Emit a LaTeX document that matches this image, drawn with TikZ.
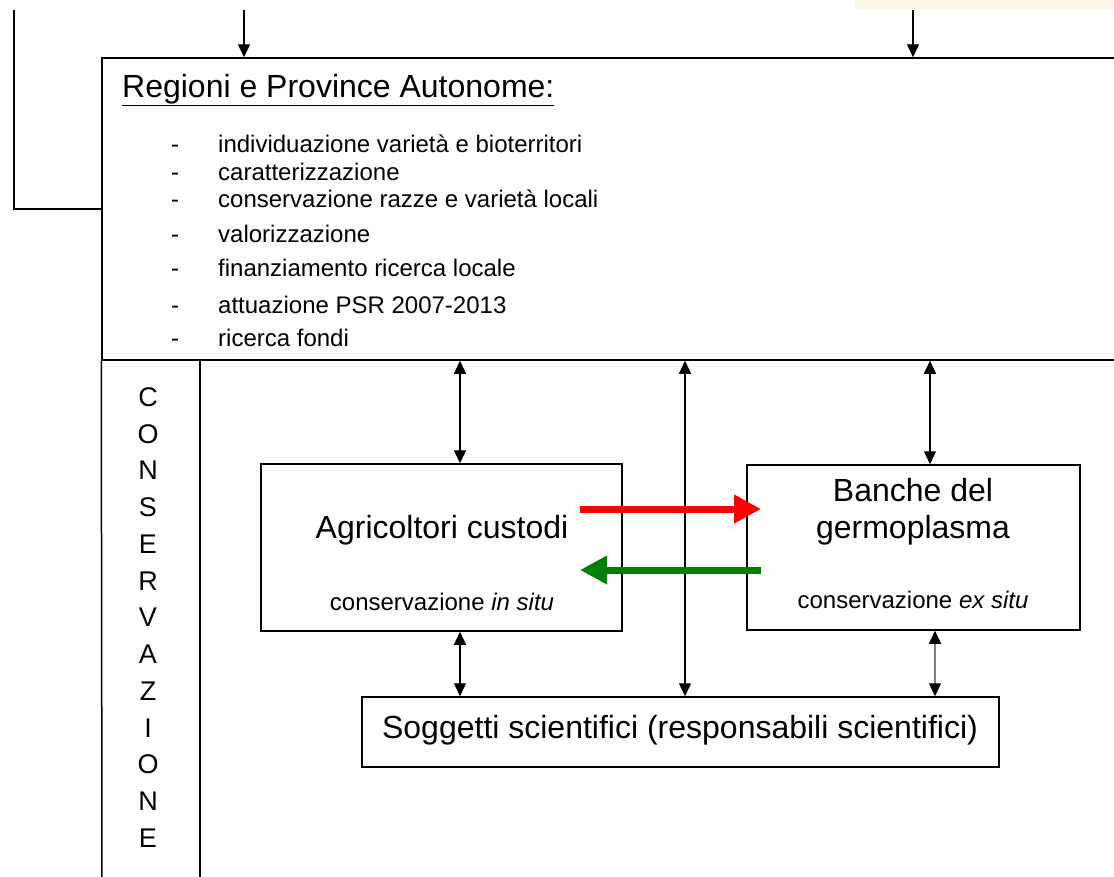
\documentclass[tikz,border=0pt]{standalone}
\usepackage{fontspec}
\setmainfont{Liberation Sans}
\usetikzlibrary{arrows.meta}

\definecolor{verde}{RGB}{0,128,0}
\definecolor{sfondo}{RGB}{252,246,228}

\tikzset{
  box/.style={draw, line width=1.5pt, inner sep=0pt},
  giu/.style={line width=1.3pt, -{Triangle[length=13pt,width=12pt]}},
  doppia/.style={line width=1.3pt, {Triangle[length=13pt,width=12pt]}-{Triangle[length=13pt,width=12pt]}},
  grossa/.style={line width=7pt, -{Triangle[length=27pt,width=27pt]}},
  voce/.style={font=\fontsize{24}{28}\selectfont, anchor=base west, inner sep=0pt},
  titolo/.style={font=\fontsize{32}{37}\selectfont, inner sep=0pt, align=center},
  sotto/.style={font=\fontsize{24}{28}\selectfont, inner sep=0pt},
  colonna/.style={font=\fontsize{27}{30}\selectfont, inner sep=0pt}
}

\begin{document}
\begin{tikzpicture}[x=1pt, y=-1pt]
  \useasboundingbox (0,0) rectangle (1114,876);
  \fill[sfondo] (855,0) rectangle (1114,9);

  % riquadro regioni
  \node[box, minimum width=1028pt, minimum height=302pt] (regioni) at (616,209) {};
  \node[font=\fontsize{32}{37}\selectfont, anchor=base west, inner sep=0pt] (titreg)
    at (122,97) {\underline{Regioni e Province Autonome:}};
  \foreach \y/\testo [count=\i] in {152/{individuazione varietà e bioterritori},
      180/caratterizzazione, 207/{conservazione razze e varietà locali},
      242/valorizzazione, 276/{finanziamento ricerca locale},
      313/{attuazione PSR 2007-2013}, 346/{ricerca fondi}} {
    \node[voce, anchor=base] (trat\i) at (175,\y) {-};
    \node[voce] (voce\i) at (218,\y) {\testo};
  }

  % frecce in alto
  \coordinate (sx) at (14,10);
  \coordinate (su1) at (244,10);
  \coordinate (su2) at (913,10);
  \draw[line width=1.3pt] (sx) |- (regioni.west);
  \draw[giu] (su1) -- (su1 |- regioni.north);
  \draw[giu] (su2) -- (su2 |- regioni.north);

  % colonna conservazione
  \draw[line width=1.5pt] (regioni.south west) -- (102,880);
  \draw[line width=1.5pt] (200,0 |- regioni.south) -- (200,880);
  \foreach \lettera [count=\i] in {C,O,N,S,E,R,V,A,Z,I,O,N,E}
    \node[colonna] (lett\i) at (148,{397+(\i-1)*36.75}) {\lettera};

  % soggetti
  \node[box, minimum width=361pt, minimum height=167pt] (agri) at (441.5,547.5) {};
  \node[box, minimum width=333pt, minimum height=165pt] (banche) at (913.5,547.5) {};
  \node[box, minimum width=637pt, minimum height=70pt] (sogg) at (680.5,732) {};

  \node[titolo] (agritit) at (442,530) {Agricoltori custodi};
  \node[sotto] (agrisot) at (442,602) {conservazione \textit{in situ}};
  \node[titolo] (bantit) at (913,512) {Banche del\\germoplasma};
  \node[sotto] (bansot) at (913,600) {conservazione \textit{ex situ}};
  \node[titolo] (soggtit) at (680,730) {Soggetti scientifici (responsabili scientifici)};

  % collegamenti
  \draw[doppia] (460,0 |- regioni.south) -- (460,0 |- agri.north);
  \draw[doppia] (685,0 |- regioni.south) -- (685,0 |- sogg.north);
  \draw[doppia] (930,0 |- regioni.south) -- (930,0 |- banche.north);
  \draw[doppia] (460,0 |- agri.south) -- (460,0 |- sogg.north);
  \draw[line width=1.3pt, draw=gray,
    {Triangle[length=13pt,width=12pt,black]}-{Triangle[length=13pt,width=12pt,black]}]
    (935,0 |- banche.south) -- (935,0 |- sogg.north);

  \coordinate (rossoA) at (580,509);
  \coordinate (rossoB) at (761,509);
  \coordinate (verdeA) at (761,570);
  \coordinate (verdeB) at (580,570);
  \draw[grossa, red] (rossoA) -- (rossoB);
  \draw[grossa, verde] (verdeA) -- (verdeB);
\end{tikzpicture}
\end{document}
